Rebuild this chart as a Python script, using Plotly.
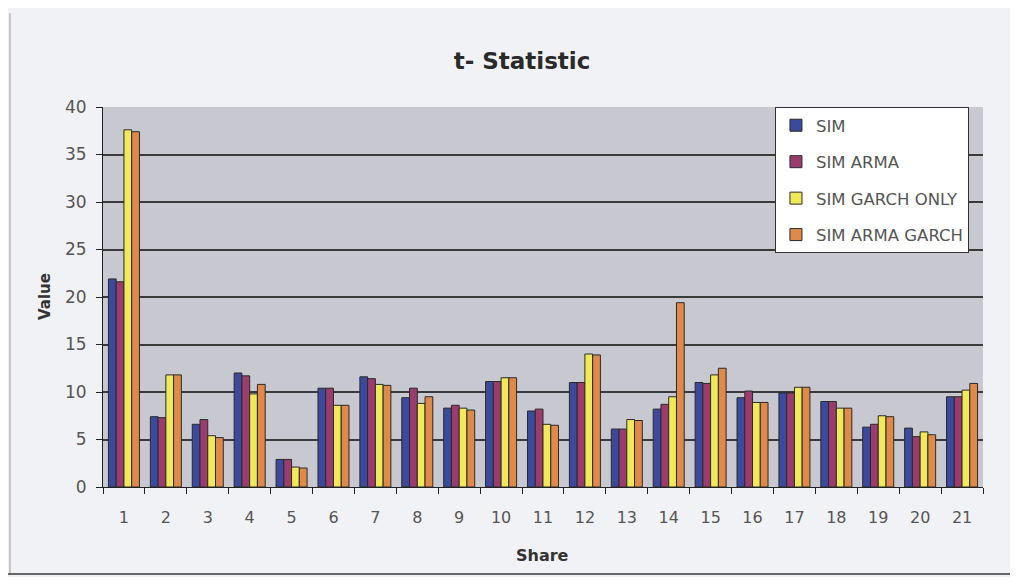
import plotly.graph_objects as go

shares = [str(i) for i in range(1, 22)]
sim = [21.9, 7.4, 6.6, 12.0, 2.9, 10.4, 11.6, 9.4, 8.3, 11.1, 8.0, 11.0, 6.1, 8.2, 11.0, 9.4, 9.9, 9.0, 6.3, 6.2, 9.5]
sim_arma = [21.6, 7.3, 7.1, 11.7, 2.9, 10.4, 11.4, 10.4, 8.6, 11.1, 8.2, 11.0, 6.1, 8.7, 10.9, 10.1, 9.9, 9.0, 6.6, 5.3, 9.5]
sim_garch = [37.6, 11.8, 5.4, 9.8, 2.1, 8.6, 10.8, 8.8, 8.3, 11.5, 6.6, 14.0, 7.1, 9.5, 11.8, 8.9, 10.5, 8.3, 7.5, 5.8, 10.2]
sim_arma_garch = [37.4, 11.8, 5.2, 10.8, 2.0, 8.6, 10.7, 9.5, 8.1, 11.5, 6.5, 13.9, 7.0, 19.4, 12.5, 8.9, 10.5, 8.3, 7.4, 5.5, 10.9]

series = [
    ("SIM", sim, "#3b4a9c"),
    ("SIM ARMA", sim_arma, "#9a3d6e"),
    ("SIM GARCH ONLY", sim_garch, "#f0ea5a"),
    ("SIM ARMA GARCH", sim_arma_garch, "#e08a4a"),
]

FONT = "DejaVu Sans, Verdana, sans-serif"

fig = go.Figure()
for name, vals, col in series:
    fig.add_trace(go.Bar(
        x=shares, y=vals, name=name, legendgroup=name,
        marker=dict(color=col, line=dict(color="#2a2a2a", width=1)),
    ))

fig.update_layout(
    width=1002, height=569,
    paper_bgcolor="#f1f2f5", plot_bgcolor="#c8c8d0",
    margin=dict(l=95, r=27, t=99, b=90),
    barmode="group", bargap=0.26, bargroupgap=0,
    font=dict(family=FONT, size=16, color="#555555"),
    title=dict(text="<b>t- Statistic</b>", x=0.513, xanchor="center", y=0.907, yanchor="middle",
               font=dict(size=23, color="#2a2a2a", family=FONT)),
    showlegend=True,
    legend=dict(x=0.7636, y=1.0, xanchor="left", yanchor="top",
                bgcolor="white", bordercolor="#333333", borderwidth=1,
                tracegroupgap=12, itemwidth=30, font=dict(size=16.5, color="#555555", family=FONT),
                traceorder="grouped"),
    shapes=[
        dict(type="line", xref="paper", yref="paper", x0=-0.1057, x1=-0.1057, y0=-0.232, y1=1.247,
             line=dict(color="#999999", width=1)),
        dict(type="line", xref="paper", yref="paper", x0=-0.11, x1=1.04, y0=-0.229, y1=-0.229,
             line=dict(color="#666666", width=2)),
    ],
    annotations=[
        dict(text="<b>Share</b>", xref="paper", yref="paper", x=0.499, y=-0.18,
             xanchor="center", yanchor="middle", showarrow=False,
             font=dict(size=16, color="#333333", family=FONT)),
        dict(text="<b>Value</b>", xref="paper", yref="paper", x=-0.0659, y=0.5,
             xanchor="center", yanchor="middle", showarrow=False, textangle=-90,
             font=dict(size=15, color="#333333", family=FONT)),
    ],
)
fig.update_xaxes(
    showline=True, linecolor="#222222", linewidth=1, ticks="outside", ticklen=6, tickcolor="#222222",
    tickson="boundaries", showgrid=False, ticklabelstandoff=16,
    tickfont=dict(size=16, color="#555555"),
)
fig.update_yaxes(
    range=[0, 40], dtick=5, showline=True, linecolor="#222222", linewidth=1,
    ticks="outside", ticklen=6, tickcolor="#222222", ticklabelstandoff=6,
    gridcolor="#3a3a3a", gridwidth=2, zeroline=False,
    tickfont=dict(size=17, color="#555555"),
)

fig.write_html("out.html")
